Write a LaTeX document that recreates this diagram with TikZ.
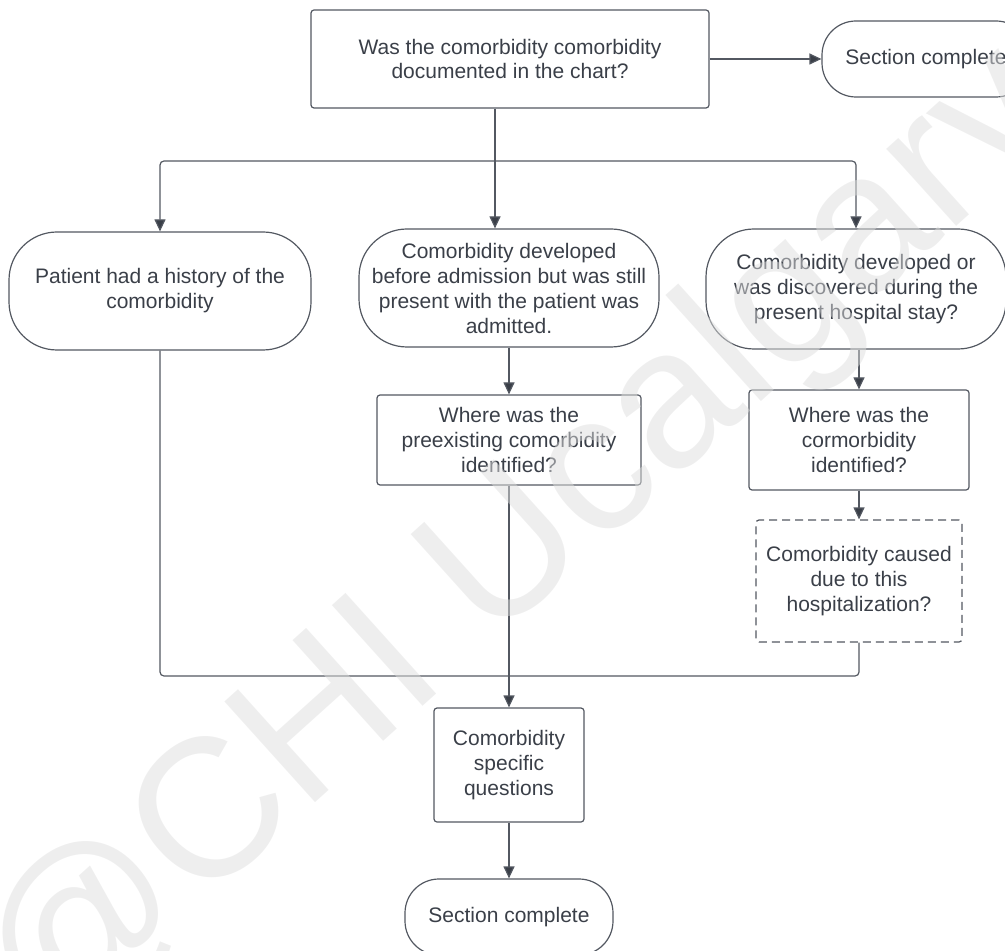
\documentclass[tikz,border=0pt]{standalone}
\usepackage{fontspec}
\setmainfont{Liberation Sans}
\usetikzlibrary{arrows.meta,positioning}
\definecolor{inkgray}{HTML}{3A3F48}
\definecolor{edgegray}{HTML}{535861}

\begin{document}
\begin{tikzpicture}[x=0.5pt, y=-0.5pt,
    every node/.style={font=\fontsize{10.5}{12.5}\selectfont, text=inkgray, align=center},
    box/.style={draw=edgegray, line width=0.6pt, rounded corners=1.5pt, inner sep=2pt},
    term/.style={draw=edgegray, line width=0.6pt, rounded corners=#1, inner sep=2pt},
    term/.default=24pt,
    link/.style={draw=edgegray, line width=0.6pt, rounded corners=2pt},
    arr/.style={link, -{Triangle[length=6pt, width=5.5pt, fill=inkgray]}}]
  \useasboundingbox (0,0) rectangle (1005,951);

  % Question
  \node[box, minimum width=199pt, minimum height=49pt] (chart) at (510,59) {Was the comorbidity comorbidity\\documented in the chart?};
  \node[term=17pt, minimum width=104pt, minimum height=38pt] (done1) at (926,59) {Section complete};
  % Three cases
  \node[term, minimum width=151pt, minimum height=59pt] (hist) at (160,291) {Patient had a history of the\\comorbidity};
  \node[term, minimum width=150pt, minimum height=59pt] (pre) at (509,288) {Comorbidity developed\\before admission but was still\\present with the patient was\\admitted.};
  \node[term, minimum width=150pt, minimum height=60pt] (new) at (856,289) {Comorbidity developed or\\was discovered during the\\present hospital stay?};
  % Where identified
  \node[box, minimum width=132pt, minimum height=45pt] (where1) at (509,440) {Where was the\\preexisting comorbidity\\identified?};
  \node[box, minimum width=110pt, minimum height=50pt] (where2) at (859,440) {Where was the\\cormorbidity\\identified?};
  \node[box, dash pattern=on 4pt off 2.5pt, minimum width=103pt, minimum height=61pt] (caused) at (859,581) {Comorbidity caused\\due to this\\hospitalization?};
  % Specific questions
  \node[box, minimum width=75pt, minimum height=57pt] (spec) at (509,765) {Comorbidity\\specific\\questions};
  \node[term=17pt, minimum width=104pt, minimum height=38pt] (done2) at (509,917) {Section complete};

  \coordinate (fork) at (495,161);
  \coordinate (merge) at (509,676);

  \draw[arr] (chart) -- (done1);
  \draw[link] (chart.south -| fork) -- (fork);
  \draw[arr] (fork) -| (hist.north);
  \draw[arr] (fork) -- (fork |- pre.north);
  \draw[arr] (fork) -| (new.north);
  \draw[arr] (pre) -- (where1);
  \draw[arr] (new.south -| where2.north) -- (where2);
  \draw[arr] (where2) -- (caused);
  \draw[link] (hist.south) |- (merge) -| (caused.south);
  \draw[arr] (where1) -- (spec);
  \draw[arr] (spec) -- (done2);

  % Watermark
  \node[font=\fontsize{98.5}{98.5}\selectfont, text=black!13, opacity=0.5, rotate=42] (mark) at (525,546) {@CHI Ucalgary};
\end{tikzpicture}
\end{document}
